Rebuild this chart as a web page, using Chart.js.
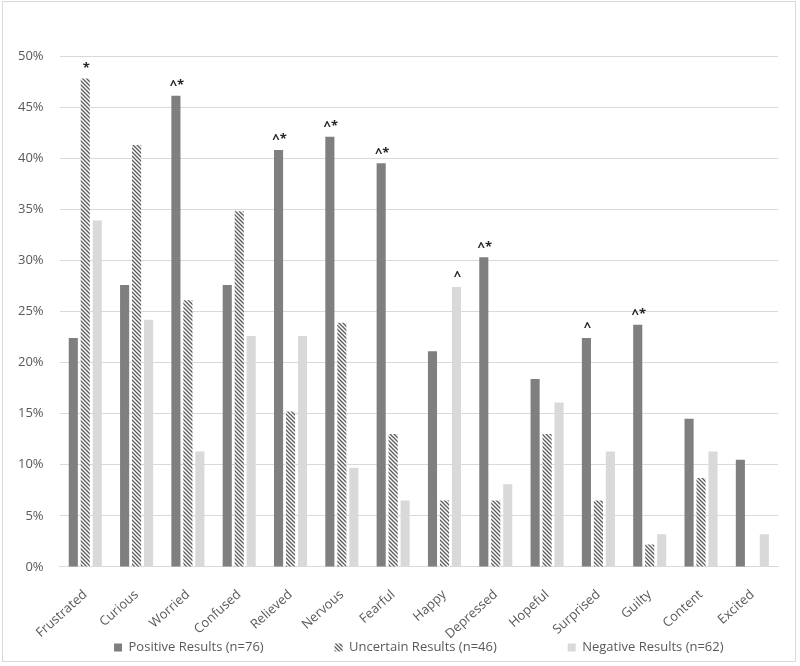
<!DOCTYPE html>
<html>
<head>
<meta charset="utf-8">
<script src="https://cdn.jsdelivr.net/npm/chart.js@4/dist/chart.umd.min.js"></script>
<style>
  body { margin: 0; background: #fff; }
  #wrap { position: relative; width: 800px; height: 666px; }
  #frame { position: absolute; left: 2px; top: 1px; width: 792px; height: 659px; border: 1px solid #d9d9d9; pointer-events: none; }
  canvas { position: absolute; left: 0; top: 0; }
</style>
</head>
<body>
<div id="wrap">
  <canvas id="chart" width="800" height="666"></canvas>
  <div id="frame"></div>
</div>
<script>
const emotions = ["Frustrated", "Curious", "Worried", "Confused", "Relieved", "Nervous", "Fearful",
  "Happy", "Depressed", "Hopeful", "Surprised", "Guilty", "Content", "Excited"];
const positive = [22.4, 27.6, 46.1, 27.6, 40.8, 42.1, 39.5, 21.1, 30.3, 18.4, 22.4, 23.7, 14.5, 10.5];
const uncertain = [47.8, 41.3, 26.1, 34.8, 15.2, 23.9, 13.0, 6.5, 6.5, 13.0, 6.5, 2.2, 8.7, 0];
const negative = [33.9, 24.2, 11.3, 22.6, 22.6, 9.7, 6.5, 27.4, 8.1, 16.1, 11.3, 3.2, 11.3, 3.2];
const seriesNames = ["Positive Results (n=76)", "Uncertain Results (n=46)", "Negative Results (n=62)"];
// significance marks drawn over the bars
const positiveMarks = ["", "", "^*", "", "^*", "^*", "^*", "", "^*", "", "^", "^*", "", ""];
const uncertainMarks = ["*", "", "", "", "", "", "", "", "", "", "", "", "", ""];
const negativeMarks = ["", "", "", "", "", "", "", "^", "", "", "", "", "", ""];
const yTicks = [0, 5, 10, 15, 20, 25, 30, 35, 40, 45, 50];

function hatch() {
  const c = document.createElement("canvas");
  c.width = 4; c.height = 4;
  const g = c.getContext("2d");
  g.fillStyle = "#ffffff";
  g.fillRect(0, 0, 4, 4);
  g.strokeStyle = "#5a5a5a";
  g.lineWidth = 1.3;
  g.beginPath();
  g.moveTo(-1, -1); g.lineTo(5, 5);
  g.moveTo(-1, 3); g.lineTo(1, 5);
  g.moveTo(3, -1); g.lineTo(5, 1);
  g.stroke();
  return g.createPattern(c, "repeat");
}

const marksPlugin = {
  id: "marks",
  afterDatasetsDraw(chart) {
    const ctx = chart.ctx;
    const all = [positiveMarks, uncertainMarks, negativeMarks];
    ctx.save();
    ctx.font = "bold 13px 'Open Sans'";
    ctx.fillStyle = "#262626";
    ctx.textAlign = "center";
    ctx.textBaseline = "bottom";
    all.forEach((marks, ds) => {
      const meta = chart.getDatasetMeta(ds);
      marks.forEach((m, i) => {
        if (!m) return;
        const bar = meta.data[i];
        ctx.fillText(m, bar.x + 1, bar.y - 4);
      });
    });
    ctx.restore();
  }
};

const tickFont = { family: "'Open Sans'", size: 13 };
const gap = "                     ";

new Chart(document.getElementById("chart"), {
  type: "bar",
  data: {
    labels: emotions,
    datasets: [
      { label: seriesNames[0], data: positive, backgroundColor: "#7f7f7f" },
      { label: seriesNames[1], data: uncertain, backgroundColor: hatch() },
      { label: seriesNames[2], data: negative, backgroundColor: "#d9d9d9" }
    ]
  },
  options: {
    responsive: false,
    animation: false,
    categoryPercentage: 0.7,
    barPercentage: 0.76,
    layout: { padding: { left: 2, right: 22, top: 56, bottom: 2 } },
    scales: {
      x: {
        grid: { display: false },
        border: { color: "#d9d9d9" },
        ticks: { font: tickFont, color: "#595959", minRotation: 42, maxRotation: 42, padding: 12 },
        afterFit: (axis) => { axis.height -= 13; }
      },
      y: {
        min: 0,
        max: 50,
        afterBuildTicks: (axis) => { axis.ticks = yTicks.map((v) => ({ value: v })); },
        grid: { color: "#d9d9d9", drawTicks: false },
        border: { display: false },
        ticks: { font: tickFont, color: "#595959", padding: 16, callback: (v) => v + "%" }
      }
    },
    plugins: {
      legend: {
        position: "bottom",
        fullSize: false,
        labels: {
          font: tickFont, color: "#595959", boxWidth: 8, boxHeight: 8, padding: 0,
          generateLabels: (chart) => Chart.defaults.plugins.legend.labels.generateLabels(chart)
            .map((item, i) => Object.assign(item, { text: i < 2 ? item.text + gap : item.text }))
        }
      },
      tooltip: { enabled: false }
    }
  },
  plugins: [marksPlugin]
});
</script>
</body>
</html>
